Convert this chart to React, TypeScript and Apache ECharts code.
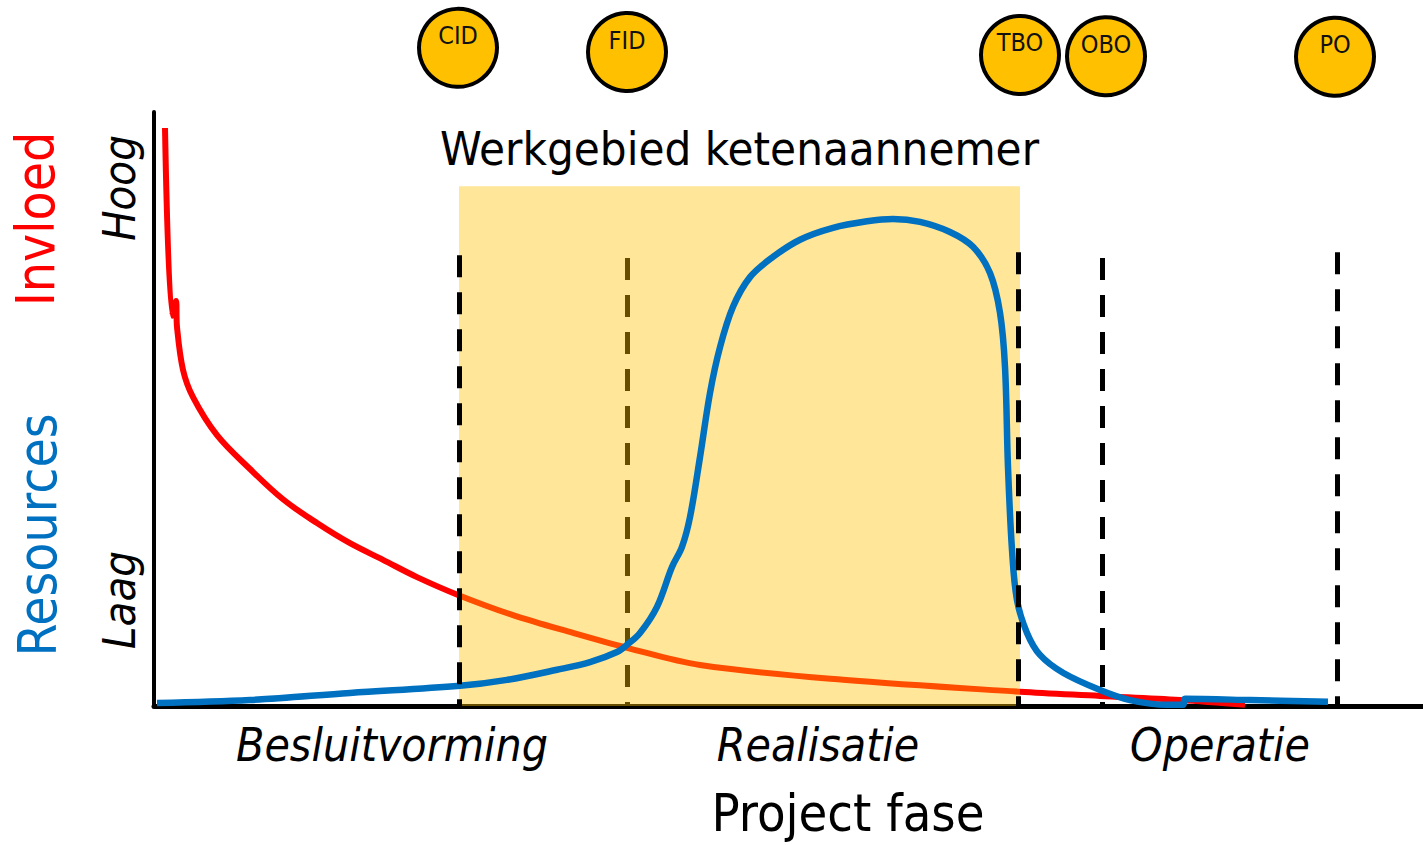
import React, { useEffect, useRef } from "react";
import * as echarts from "echarts";

// Project time axis (0..126.9) and level axis (0 = Laag, 100 = top of axis)
const influenceX = [1.1, 1.8, 2.2, 2.3, 2.9, 3.9, 6.3, 9.6, 12.9, 16.3, 19.6, 22.9, 26.3, 30.4, 35.9, 41.9, 47.3, 54.6, 68.9, 86.6, 94.6, 102.6, 109.1];
const influenceY = [97.3, 65.7, 68.2, 63.8, 56.6, 52.0, 45.6, 39.9, 34.8, 30.8, 27.4, 24.6, 21.7, 18.7, 15.3, 12.3, 9.8, 6.9, 4.4, 2.4, 1.7, 1.0, 0.2];

const resourceX = [0.3, 9.6, 19.6, 30.6, 35.3, 40.3, 43.6, 46.3, 47.3, 48.6, 50.3, 51.8, 52.8, 53.6, 54.6, 55.6, 56.6, 57.9, 59.6, 61.9, 64.6, 67.9, 71.3, 73.9, 76.6, 79.6, 81.9, 83.6, 84.6, 85.1, 85.4, 85.8, 86.3, 87.3, 88.6, 90.9, 94.6, 97.6, 101.3, 102.9, 103.1, 109.6, 117.4];
const resourceY = [0.5, 1.0, 2.2, 3.4, 4.4, 6.1, 7.4, 9.1, 10.3, 12.3, 16.7, 23.4, 26.8, 31.8, 41.9, 52.7, 60.4, 67.2, 72.2, 75.6, 78.5, 80.5, 81.6, 82.0, 81.5, 79.8, 77.3, 72.9, 66.2, 57.1, 40.2, 26.3, 17.8, 12.3, 8.6, 5.6, 2.7, 1.0, 0.2, 0.2, 1.2, 1.0, 0.7];

const milestoneNames = ["CID", "FID", "TBO", "OBO", "PO"];
const milestoneLineX = [30.5, 47.3, 86.4, 94.8, 118.3];
const milestoneLineTop = [75.9, 75.4, 76.4, 75.4, 76.4];
const milestoneCircleX = [30.4, 47.3, 86.6, 95.2, 118.1];
const milestoneCircleY = [110.8, 110.1, 109.6, 109.4, 109.3];

const workAreaName = "Werkgebied ketenaannemer";
const workAreaX = [30.5, 86.6];
const workAreaTop = 87.5;

const phaseNames = ["Besluitvorming", "Realisatie", "Operatie"];
const xAxisTitle = "Project fase";
const levelNames = ["Hoog", "Laag"];

const FONT = "'DejaVu Sans Condensed', 'DejaVu Sans', sans-serif";

export default function App() {
  const ref = useRef<HTMLDivElement>(null);

  useEffect(() => {
    if (!ref.current) return;
    const chart = echarts.init(ref.current, undefined, { renderer: "svg" });

    const dash = { type: [22, 15] as any, width: 5, color: "#000" };
    const underLines: any[] = [];
    const overLines: any[] = [];
    milestoneNames.forEach((n, i) => {
      const seg = [
        { coord: [milestoneLineX[i], milestoneLineTop[i]] },
        { coord: [milestoneLineX[i], 0] },
      ];
      if (n === "FID") underLines.push(seg);
      else overLines.push(seg);
    });

    chart.setOption({
      animation: false,
      grid: { left: 154, right: 0, top: 112, bottom: 139 },
      xAxis: {
        type: "value",
        min: 0,
        max: 126.9,
        axisLine: { show: true, lineStyle: { color: "#000", width: 5 } },
        axisTick: { show: false },
        axisLabel: { show: false },
        splitLine: { show: false },
      },
      yAxis: {
        type: "value",
        min: 0,
        max: 100,
        axisLine: { show: true, lineStyle: { color: "#000", width: 4 } },
        axisTick: { show: false },
        axisLabel: { show: false },
        splitLine: { show: false },
      },
      series: [
        {
          name: "Invloed",
          type: "line",
          z: 1,
          data: influenceX.map((x, i) => [x, influenceY[i]]),
          showSymbol: false,
          smooth: 0.35,
          lineStyle: { color: "#FF0000", width: 6 },
          silent: true,
          markLine: {
            z: 1,
            silent: true,
            symbol: "none",
            label: { show: false },
            lineStyle: dash,
            data: underLines,
          },
        },
        {
          name: "Werkgebied",
          type: "line",
          z: 2,
          data: [],
          silent: true,
          markArea: {
            z: 2,
            silent: true,
            itemStyle: { color: "rgba(255,192,0,0.4)" },
            label: {
              show: true,
              position: "top",
              distance: 14,
              color: "#000",
              fontFamily: FONT,
              fontSize: 47,
              formatter: workAreaName,
            },
            data: [[{ coord: [workAreaX[0], 0] }, { coord: [workAreaX[1], workAreaTop] }]],
          },
        },
        {
          name: "Resources",
          type: "line",
          z: 3,
          data: resourceX.map((x, i) => [x, resourceY[i]]),
          showSymbol: false,
          smooth: 0.35,
          lineStyle: { color: "#0070C0", width: 6.5 },
          silent: true,
        },
        {
          name: "Mijlpalen",
          type: "scatter",
          z: 4,
          clip: false,
          silent: true,
          symbol: "circle",
          symbolSize: 78,
          itemStyle: { color: "#FFC000", borderColor: "#000", borderWidth: 4, opacity: 1 },
          label: {
            show: true,
            position: "inside",
            offset: [0, -12],
            formatter: "{b}",
            color: "#111",
            fontFamily: FONT,
            fontSize: 25,
          },
          data: milestoneNames.map((n, i) => ({ name: n, value: [milestoneCircleX[i], milestoneCircleY[i]] })),
          markLine: {
            z: 5,
            silent: true,
            symbol: "none",
            label: { show: false },
            lineStyle: dash,
            data: overLines,
          },
        },
      ],
      graphic: [
        { type: "text", x: 35, y: 219, rotation: Math.PI / 2, style: { text: "Invloed", fill: "#FF0000", font: `53px ${FONT}`, textAlign: "center", textVerticalAlign: "middle" } },
        { type: "text", x: 37, y: 535, rotation: Math.PI / 2, style: { text: "Resources", fill: "#0070C0", font: `53px ${FONT}`, textAlign: "center", textVerticalAlign: "middle" } },
        { type: "text", x: 119, y: 188, rotation: Math.PI / 2, style: { text: levelNames[0], fill: "#000", font: `italic 45px ${FONT}`, textAlign: "center", textVerticalAlign: "middle" } },
        { type: "text", x: 119, y: 600, rotation: Math.PI / 2, style: { text: levelNames[1], fill: "#000", font: `italic 45px ${FONT}`, textAlign: "center", textVerticalAlign: "middle" } },
        { type: "text", x: 392, y: 745, style: { text: phaseNames[0], fill: "#000", font: `italic 46px ${FONT}`, textAlign: "center", textVerticalAlign: "middle" } },
        { type: "text", x: 818, y: 745, style: { text: phaseNames[1], fill: "#000", font: `italic 46px ${FONT}`, textAlign: "center", textVerticalAlign: "middle" } },
        { type: "text", x: 1220, y: 745, style: { text: phaseNames[2], fill: "#000", font: `italic 46px ${FONT}`, textAlign: "center", textVerticalAlign: "middle" } },
        { type: "text", x: 848, y: 813, style: { text: xAxisTitle, fill: "#000", font: `52px ${FONT}`, textAlign: "center", textVerticalAlign: "middle" } },
      ],
    });

    return () => chart.dispose();
  }, []);

  return <div ref={ref} style={{ position: "absolute", left: 0, top: 0, width: 1423, height: 845 }} />;
}
